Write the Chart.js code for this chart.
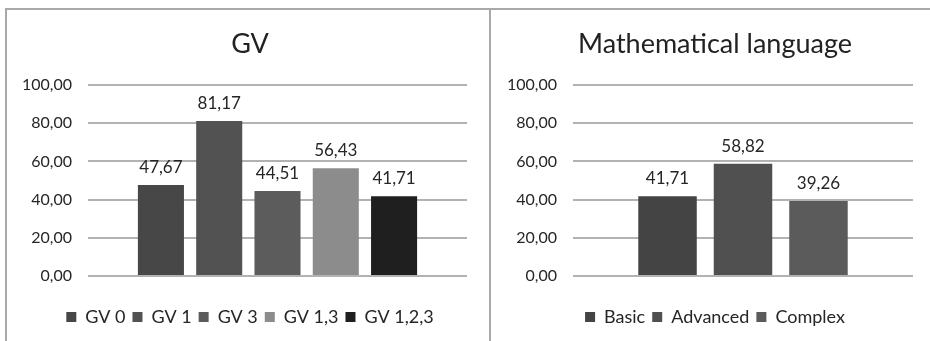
<!DOCTYPE html>
<html>
<head>
<meta charset="utf-8">
<script src="https://cdn.jsdelivr.net/npm/chart.js@4"></script>
<style>
  html, body { margin: 0; padding: 0; background: #ffffff; }
  body { width: 930px; height: 341px; position: relative; overflow: hidden; }
  .panel { position: absolute; top: 8px; border-top: 2px solid #a9a9a9; border-left: 2px solid #a9a9a9; box-sizing: border-box; }
  #leftPanel { left: 5px; width: 485px; height: 333px; }
  #rightPanel { left: 489px; width: 441px; height: 333px; }
  canvas { display: block; }
</style>
</head>
<body>
<div class="panel" id="leftPanel"><canvas id="gvChart" width="483" height="331"></canvas></div>
<div class="panel" id="rightPanel"><canvas id="langChart" width="439" height="331"></canvas></div>
<script>
// Series of the GV chart
const gvSeries = ['GV 0', 'GV 1', 'GV 3', 'GV 1,3', 'GV 1,2,3'];
const gvValues = [47.67, 81.17, 44.51, 56.43, 41.71];
const gvColors = ['#474747', '#525252', '#5c5c5c', '#8c8c8c', '#1f1f1f'];

// Series of the mathematical language chart
const langSeries = ['Basic', 'Advanced', 'Complex'];
const langValues = [41.71, 58.82, 39.26];
const langColors = ['#444444', '#505050', '#5b5b5b'];

// Shared value axis ticks
const yTicks = [0, 20, 40, 60, 80, 100];

const FONT = 'Lato, "Open Sans", sans-serif';
const TEXT = '#262626';
const PAD_LEFT = 26;

const fmt = v => v.toFixed(2).replace('.', ',');

// Writes each bar's value just above it
const valueLabels = {
  id: 'valueLabels',
  afterDatasetsDraw(chart) {
    const ctx = chart.ctx;
    ctx.save();
    ctx.font = '17px ' + FONT;
    ctx.fillStyle = TEXT;
    ctx.textAlign = 'center';
    ctx.textBaseline = 'alphabetic';
    chart.data.datasets.forEach((ds, i) => {
      const meta = chart.getDatasetMeta(i);
      meta.data.forEach((bar, j) => {
        ctx.fillText(fmt(ds.data[j]), bar.x, bar.y - 12);
      });
    });
    ctx.restore();
  }
};

function buildChart(id, title, series, values, colors, opts) {
  const datasets = series.map((name, i) => ({
    label: name,
    data: [values[i]],
    backgroundColor: colors[i],
    borderWidth: 0,
    categoryPercentage: opts.cat,
    barPercentage: opts.bar
  }));
  return new Chart(document.getElementById(id), {
    type: 'bar',
    data: { labels: [''], datasets },
    plugins: [valueLabels],
    options: {
      responsive: false,
      animation: false,
      events: [],
      layout: { padding: { left: PAD_LEFT, right: opts.right, top: 0, bottom: 5 } },
      plugins: {
        tooltip: { enabled: false },
        title: {
          display: true,
          text: title,
          color: '#222222',
          font: { family: FONT, size: 27, weight: 'normal', lineHeight: 1.2 },
          padding: { top: 18, bottom: 24.6 }
        },
        legend: {
          position: 'bottom',
          labels: {
            boxWidth: 10,
            boxHeight: 10,
            padding: 7,
            color: TEXT,
            font: { family: FONT, size: 18 }
          }
        }
      },
      scales: {
        x: {
          display: true,
          grid: { display: false },
          border: { display: false },
          ticks: { display: false },
          afterFit(scale) { scale.height = 25; }
        },
        y: {
          min: 0,
          max: 100,
          afterBuildTicks(scale) { scale.ticks = yTicks.map(v => ({ value: v })); },
          grid: { color: '#b2b2b2', lineWidth: 2, drawTicks: false },
          border: { display: false },
          ticks: {
            padding: 16,
            color: TEXT,
            font: { family: FONT, size: 16 },
            callback: v => fmt(v)
          },
          afterFit(scale) {
            scale.width = opts.left - PAD_LEFT;
            // the tick labels reach into the left padding, so draw them unclipped
            scale._computeLabelArea = () => undefined;
          }
        }
      }
    }
  });
}

buildChart('gvChart', 'GV', gvSeries, gvValues, gvColors, { left: 81, right: 23, cat: 0.769, bar: 0.79 });
buildChart('langChart', 'Mathematical language', langSeries, langValues, langColors, { left: 82, right: 17, cat: 0.666, bar: 0.775 });
</script>
</body>
</html>
